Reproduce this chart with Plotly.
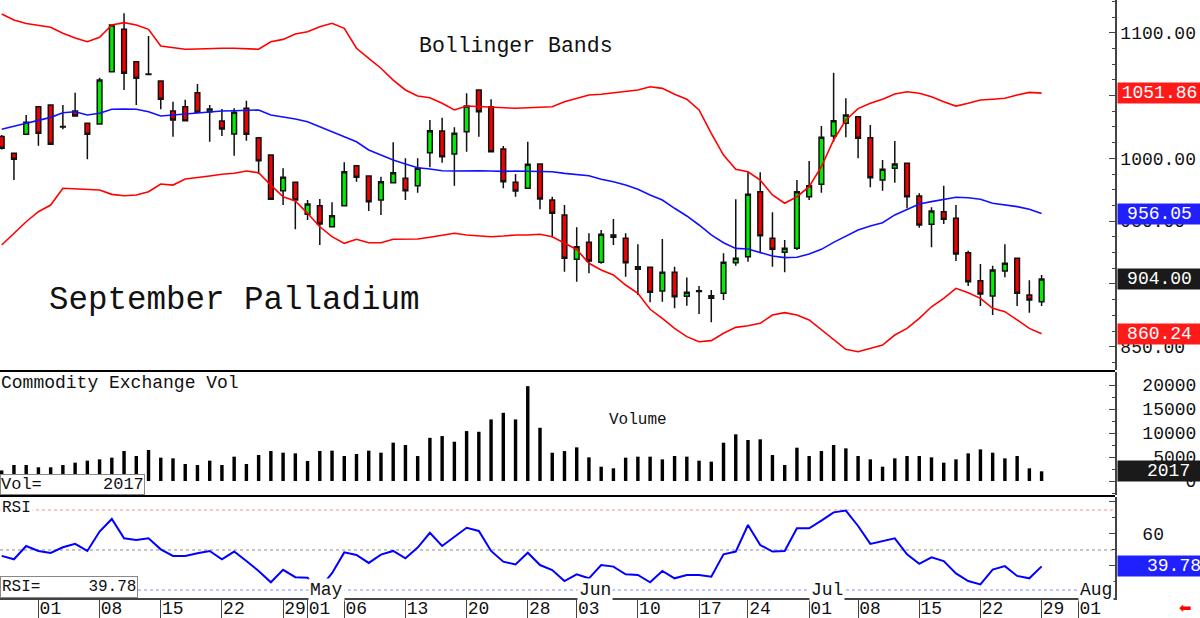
import plotly.graph_objects as go

# ---------------- data ----------------
opens = [1017.3, 1004.0, 1019.1, 1041.1, 1042.4, 1025.0, 1037.7, 1027.9, 1027.3, 1069.0,
         1102.7, 1076.9, 1066.7, 1061.5, 1037.7, 1041.1, 1052.2, 1037.1, 1029.7, 1019.3,
         1039.8, 1016.4, 1002.6, 974.2, 980.9, 955.4, 962.3, 945.5, 962.3, 994.1,
         985.9, 966.8, 980.6, 984.1, 978.2, 1004.5, 1021.7, 1003.4, 1021.2, 1054.4,
         1041.1, 1007.4, 980.9, 976.1, 995.5, 966.8, 954.9, 919.6, 933.1, 917.2,
         938.9, 936.3, 911.6, 913.2, 894.3, 909.2, 890.1, 894.6, 888.5, 892.5,
         916.9, 921.6, 973.4, 936.3, 925.2, 928.3, 969.4, 979.3, 1017.8, 1027.9,
         1033.1, 1016.4, 982.7, 992.0, 996.0, 970.0, 947.4, 957.5, 952.2, 924.8,
         902.6, 890.4, 910.3, 920.4, 891.2, 885.8]
highs = [1018.5, 1004.5, 1034.5, 1041.5, 1043.0, 1042.4, 1052.2, 1028.5, 1064.2, 1106.5,
         1115.4, 1077.3, 1097.4, 1061.8, 1045.1, 1046.6, 1059.2, 1042.4, 1039.3, 1039.8,
         1045.9, 1016.7, 1003.0, 992.0, 981.3, 966.8, 967.6, 965.0, 996.8, 994.4,
         986.2, 985.4, 1012.8, 1000.1, 1000.1, 1030.5, 1032.3, 1024.7, 1051.7, 1054.7,
         1047.0, 1009.7, 987.5, 1013.2, 995.8, 969.4, 962.8, 945.1, 940.3, 942.9,
         951.7, 940.3, 931.5, 913.5, 935.7, 913.7, 905.0, 898.3, 895.1, 924.4,
         967.3, 988.9, 988.9, 957.0, 934.9, 982.7, 997.8, 1025.7, 1068.2, 1047.8,
         1033.4, 1026.5, 998.6, 1013.8, 996.3, 972.1, 961.0, 978.2, 962.8, 926.4,
         915.8, 914.5, 931.5, 920.7, 903.0, 907.1]
lows = [1007.0, 982.7, 1019.0, 1010.0, 1010.5, 1023.1, 1033.0, 999.2, 1027.0, 1068.5,
        1054.4, 1042.4, 1066.4, 1039.0, 1017.2, 1029.6, 1036.3, 1013.2, 1017.8, 1002.1,
        1014.0, 987.5, 967.0, 962.8, 943.5, 950.8, 931.0, 945.2, 962.0, 981.4,
        958.0, 954.8, 980.3, 966.8, 972.6, 992.8, 996.5, 978.2, 1005.3, 1017.2,
        1004.9, 976.1, 969.4, 975.8, 959.4, 937.1, 909.7, 901.8, 908.4, 916.0,
        930.9, 905.7, 891.2, 885.3, 885.8, 880.6, 882.6, 876.0, 869.4, 887.1,
        914.5, 917.7, 924.4, 913.7, 909.2, 927.0, 966.8, 972.6, 1013.2, 1016.7,
        1000.0, 976.9, 974.2, 980.6, 960.2, 944.8, 929.1, 947.7, 918.2, 898.3,
        882.4, 875.2, 905.2, 882.4, 877.1, 882.4]
closes = [1008.0, 999.2, 1028.7, 1019.9, 1011.1, 1025.4, 1033.7, 1019.1, 1062.3, 1106.1,
          1067.7, 1063.7, 1067.1, 1047.0, 1030.5, 1029.9, 1036.6, 1039.3, 1023.3, 1036.6,
          1019.1, 998.1, 967.3, 984.9, 966.8, 963.6, 947.7, 954.3, 989.3, 984.9,
          965.5, 981.4, 988.5, 974.2, 992.0, 1022.0, 1001.3, 1019.9, 1041.6, 1037.1,
          1005.3, 981.4, 974.0, 995.2, 967.6, 956.2, 920.4, 929.6, 918.2, 939.5,
          937.1, 916.9, 913.7, 893.3, 909.2, 889.8, 893.3, 894.0, 890.6, 917.2,
          920.4, 971.3, 938.4, 927.5, 928.3, 973.4, 978.2, 1016.7, 1029.9, 1034.5,
          1015.9, 984.6, 991.2, 995.5, 969.4, 946.9, 958.0, 951.4, 923.8, 901.8,
          892.0, 911.0, 916.4, 892.5, 887.1, 904.0]
bb_upper = [1114.9, 1110.1, 1107.3, 1105.7, 1104.3, 1099.5, 1095.8, 1092.8, 1096.3, 1106.1,
            1108.0, 1106.1, 1102.7, 1089.4, 1088.1, 1086.8, 1087.0, 1087.6, 1087.6, 1087.6,
            1087.3, 1086.8, 1092.8, 1094.7, 1099.0, 1100.8, 1104.8, 1107.5, 1103.5, 1087.6,
            1079.6, 1071.7, 1062.3, 1054.4, 1049.6, 1048.2, 1043.8, 1038.5, 1041.6, 1041.1,
            1040.6, 1039.8, 1039.8, 1040.3, 1040.6, 1041.1, 1045.1, 1047.8, 1050.4, 1051.0,
            1052.2, 1053.0, 1054.4, 1057.0, 1055.7, 1051.0, 1047.0, 1038.5, 1019.9, 1002.6,
            991.2, 989.3, 982.7, 970.8, 964.2, 969.4, 977.4, 993.3, 1014.6, 1030.5,
            1039.6, 1043.8, 1047.0, 1051.2, 1053.0, 1051.8, 1049.0, 1045.1, 1041.6, 1043.8,
            1046.4, 1047.0, 1047.8, 1050.4, 1052.5, 1051.86]
bb_mid = [1023.1, 1025.7, 1027.9, 1030.2, 1032.6, 1036.3, 1037.1, 1034.5, 1035.8, 1039.0,
          1039.3, 1039.0, 1037.1, 1033.7, 1034.5, 1035.3, 1036.3, 1037.1, 1037.7, 1037.9,
          1038.5, 1038.5, 1034.5, 1033.1, 1031.3, 1029.1, 1025.2, 1021.2, 1017.2, 1013.2,
          1006.6, 1002.6, 998.6, 995.5, 992.5, 991.5, 990.1, 989.9, 990.1, 990.1,
          989.9, 989.6, 989.9, 989.9, 989.9, 989.3, 988.0, 987.3, 986.1, 983.3,
          981.4, 978.7, 975.3, 970.8, 966.8, 960.2, 954.1, 946.9, 939.0, 932.8,
          928.3, 927.8, 924.8, 922.2, 920.9, 921.2, 923.8, 927.5, 933.1, 938.1,
          942.9, 946.1, 948.7, 954.9, 959.4, 963.6, 965.5, 967.4, 969.0, 968.6,
          967.4, 964.2, 962.8, 961.5, 959.4, 956.05]
bb_lower = [931.0, 940.3, 949.5, 957.5, 962.8, 976.1, 975.6, 974.8, 974.8, 971.3,
            970.2, 970.8, 973.4, 979.5, 978.7, 983.5, 984.5, 985.9, 987.3, 988.1,
            989.9, 988.5, 978.7, 969.4, 966.0, 956.2, 945.5, 937.6, 932.3, 935.5,
            932.8, 932.8, 935.5, 935.5, 935.7, 937.1, 938.9, 940.3, 938.9, 938.1,
            937.6, 938.1, 938.9, 938.9, 939.5, 937.6, 932.3, 927.4, 916.4, 911.1,
            907.1, 899.1, 892.5, 879.8, 872.6, 864.6, 858.0, 854.0, 854.8, 860.7,
            865.4, 866.7, 868.6, 875.2, 877.1, 875.2, 871.3, 863.3, 855.3, 847.9,
            846.0, 848.7, 851.3, 859.3, 864.6, 872.6, 881.8, 888.5, 896.5, 893.0,
            888.5, 880.6, 877.9, 871.3, 864.6, 860.24]
volume = [2200, 3330, 3330, 2850, 2850, 3330, 3820, 4240, 4510, 4860,
          6250, 5210, 6460, 4860, 4720, 3540, 3330, 4240, 3330, 5070,
          3540, 5420, 6250, 5900, 5760, 4170, 6250, 6320, 5210, 5630,
          6320, 5900, 7990, 7500, 5200, 9000, 9360, 8180, 10400, 10260,
          12830, 14210, 12830, 19760, 11090, 5890, 6240, 7010, 4930,
          2980, 2640, 4860, 5070, 5070, 4510, 5210, 5070, 4230, 4030,
          7980, 9720, 8540, 8680, 5410, 3330, 6940, 5210, 6250, 7500,
          6800, 5210, 4510, 2980, 4720, 5210, 5210, 4930, 3820, 4510,
          5760, 6590, 5900, 4720, 5210, 2640, 2017]
rsi = [46.3, 44.2, 52.5, 49.4, 48.1, 51.7, 53.8, 49.4, 61.5, 69.4,
       57.3, 56.3, 57.3, 50.4, 46.3, 46.3, 47.9, 49.4, 44.2, 49.0,
       43.1, 36.9, 29.8, 37.6, 33.0, 32.7, 26.0, 35.5, 48.5, 46.9,
       41.9, 47.1, 49.4, 44.8, 51.5, 60.7, 52.5, 58.3, 63.9, 61.9,
       49.4, 42.7, 41.0, 48.3, 40.6, 37.5, 30.6, 34.8, 32.3, 40.6,
       39.6, 34.8, 34.4, 29.8, 36.9, 32.3, 34.4, 34.4, 33.3, 47.3,
       49.0, 65.6, 53.1, 49.0, 49.4, 63.5, 63.5, 68.3, 73.5, 74.6,
       65.0, 53.8, 55.6, 57.3, 47.3, 41.3, 45.4, 43.1, 35.4, 30.6,
       28.5, 37.8, 39.9, 33.8, 32.3, 39.78]

day_tick_pos = [3, 8, 13, 18, 23, 25, 28, 33, 38, 43, 47, 52, 57, 61, 66, 70, 75, 80, 85, 88]
day_tick_labels = ["01", "08", "15", "22", "29", "01", "06", "13", "20", "28",
                   "03", "10", "17", "24", "01", "08", "15", "22", "29", "01"]
month_labels = ["May", "Jun", "Jul", "Aug"]
month_pos = [25, 47, 66, 88]
price_tick_vals = [850, 900, 950, 1000, 1050, 1100]
price_tick_text = ["850.00", "", "950.00", "1000.00", "", "1100.00"]
vol_tick_vals = [0, 5000, 10000, 15000, 20000]
vol_tick_text = ["\u00a0\u00a0\u00a0\u00a00", "\u00a05000", "10000", "15000", "20000"]
rsi_tick_vals = [40, 60, 80]
rsi_tick_text = ["", "60", ""]

idx = list(range(len(closes)))
last_close = closes[-1]
last_vol = volume[-1]
last_rsi = rsi[-1]

MONO = "Liberation Mono, DejaVu Sans Mono, monospace"
W, H = 1200, 618
ML, MR, MT, MB = 0, 85, 0, 20
PW, PH = W - ML - MR, H - MT - MB


def py(px):
    """pixel row -> paper y"""
    return (PH - px) / PH


def pxx(px):
    return px / PW


fig = go.Figure()

fig.add_trace(go.Scatter(x=idx, y=bb_upper, mode="lines", line=dict(color="#ff0000", width=1.6),
                         xaxis="x", yaxis="y", showlegend=False, hoverinfo="skip"))
fig.add_trace(go.Scatter(x=idx, y=bb_lower, mode="lines", line=dict(color="#ff0000", width=1.6),
                         xaxis="x", yaxis="y", showlegend=False, hoverinfo="skip"))
fig.add_trace(go.Scatter(x=idx, y=bb_mid, mode="lines", line=dict(color="#1010ff", width=1.6),
                         xaxis="x", yaxis="y", showlegend=False, hoverinfo="skip"))
fig.add_trace(go.Candlestick(x=idx, open=opens, high=highs, low=lows, close=closes,
                             increasing=dict(fillcolor="#00ee00", line=dict(color="#111111", width=1.5)),
                             decreasing=dict(fillcolor="#f00000", line=dict(color="#111111", width=1.5)),
                             whiskerwidth=0, xaxis="x", yaxis="y", showlegend=False, hoverinfo="skip"))
fig.add_trace(go.Bar(x=idx, y=volume, width=0.28, marker=dict(color="black", line=dict(width=0)),
                     xaxis="x", yaxis="y2", showlegend=False, hoverinfo="skip"))
fig.add_trace(go.Scatter(x=idx, y=rsi, mode="lines", line=dict(color="#0000ff", width=2),
                         xaxis="x", yaxis="y3", showlegend=False, hoverinfo="skip"))

price_dom = [py(370), 1.0]
vol_dom = [py(495), py(372)]
rsi_dom = [0.0, py(497)]

axis_common = dict(side="right", anchor="x", showgrid=False, zeroline=False, automargin=False,
                   showline=True, linecolor="#444", linewidth=1.5,
                   ticks="inside", tickcolor="#444", ticklen=6,
                   tickfont=dict(family=MONO, size=18, color="#111"))

fig.update_layout(
    width=W, height=H,
    margin=dict(l=ML, r=MR, t=MT, b=MB, autoexpand=False),
    paper_bgcolor="white", plot_bgcolor="white",
    showlegend=False, boxgap=0.45,
    xaxis=dict(domain=[0, 1], range=[-0.14, 91.0], anchor="y3", showgrid=False, zeroline=False,
               automargin=False,
               showline=True, linecolor="#444", linewidth=1.5,
               tickmode="array", tickvals=day_tick_pos, ticktext=day_tick_labels,
               ticks="outside", ticklen=20, tickcolor="#444", tickwidth=1,
               ticklabelshift=12, ticklabelstandoff=-27,
               tickfont=dict(family=MONO, size=18, color="#111"),
               rangeslider=dict(visible=False), fixedrange=True),
    yaxis=dict(domain=price_dom, range=[831.45, 1126.04], tickmode="array",
               tickvals=price_tick_vals, ticktext=price_tick_text,
               minor=dict(tick0=850, dtick=12.5, ticks="inside", ticklen=3, tickcolor="#444"),
               **axis_common),
    yaxis2=dict(domain=vol_dom, range=[-2917, 22708], tickmode="array",
                tickvals=vol_tick_vals, ticktext=vol_tick_text, ticklabelstandoff=22,
                minor=dict(tick0=0, dtick=2500, ticks="inside", ticklen=3, tickcolor="#444"),
                **axis_common),
    yaxis3=dict(domain=rsi_dom, range=[20, 83.1], tickmode="array",
                tickvals=rsi_tick_vals, ticktext=rsi_tick_text, ticklabelstandoff=22,
                minor=dict(tick0=0, dtick=10, ticks="inside", ticklen=3, tickcolor="#444"),
                **axis_common),
)

shapes = []
# panel separators
for yy in (py(371), py(496)):
    shapes.append(dict(type="line", xref="paper", yref="paper", x0=0, x1=1, y0=yy, y1=yy,
                       line=dict(color="black", width=2)))
# RSI reference lines
for lvl, col in ((75, "#ff8c8c"), (50, "#8a8a8a"), (25, "#8c8cff")):
    shapes.append(dict(type="line", xref="paper", yref="y3", x0=0, x1=1, y0=lvl, y1=lvl,
                       line=dict(color=col, width=1, dash="dot"), layer="below"))
fig.update_layout(shapes=shapes)

ann = []
ann.append(dict(text="Bollinger Bands", xref="paper", yref="paper", x=pxx(417), y=py(45.5),
                xanchor="left", yanchor="middle", showarrow=False,
                font=dict(family=MONO, size=21.5, color="#111")))
ann.append(dict(text="September Palladium", xref="paper", yref="paper", x=pxx(47), y=py(300),
                xanchor="left", yanchor="middle", showarrow=False,
                font=dict(family=MONO, size=32.5, color="#111")))
ann.append(dict(text="Commodity Exchange Vol", xref="paper", yref="paper", x=0, y=py(383),
                xanchor="left", yanchor="middle", showarrow=False, borderpad=0,
                font=dict(family=MONO, size=18, color="#111")))
ann.append(dict(text="Volume", xref="paper", yref="paper", x=pxx(607), y=py(420),
                xanchor="left", yanchor="middle", showarrow=False,
                font=dict(family=MONO, size=16, color="#111")))
ann.append(dict(text="RSI", xref="paper", yref="paper", x=0, y=py(508),
                xanchor="left", yanchor="middle", showarrow=False, bgcolor="white", borderpad=1,
                font=dict(family=MONO, size=16, color="#111")))
ann.append(dict(text="Vol=" + "\u00a0" * 6 + f"{last_vol}", xref="paper", yref="paper", x=0, y=py(495),
                xanchor="left", yanchor="bottom", showarrow=False, bgcolor="white",
                bordercolor="#888", borderwidth=1, borderpad=0,
                font=dict(family=MONO, size=17, color="#111")))
ann.append(dict(text="RSI=" + "\u00a0" * 5 + f"{last_rsi:.2f}", xref="paper", yref="paper", x=0, y=py(598),
                xanchor="left", yanchor="bottom", showarrow=False, bgcolor="white",
                bordercolor="#888", borderwidth=1, borderpad=1,
                font=dict(family=MONO, size=16, color="#111")))
for lab, pos in zip(month_labels, month_pos):
    ann.append(dict(text=lab, xref="x", yref="y3", x=pos, y=25, xanchor="left", yanchor="middle",
                    showarrow=False, bgcolor="white", borderpad=1,
                    font=dict(family=MONO, size=18, color="#111")))
# last-value boxes on right axis
for val, yref, bg, txt in (
        (bb_upper[-1], "y", "#ff1a1a", f"{bb_upper[-1]:.2f}"),
        (bb_mid[-1], "y", "#2020ff", f"{bb_mid[-1]:.2f}"),
        (last_close, "y", "#1a1a1a", f"{last_close:.2f}"),
        (bb_lower[-1], "y", "#ff1a1a", f"{bb_lower[-1]:.2f}"),
        (last_vol, "y2", "#1a1a1a", f"{last_vol}\u00a0"),
        (last_rsi, "y3", "#2020ff", f"{last_rsi:.2f}")):
    ann.append(dict(text=txt, xref="paper", yref=yref, x=1, y=val, xanchor="left", yanchor="middle",
                    xshift=2, showarrow=False, bgcolor=bg, borderpad=0, width=83, height=20,
                    align="right" if yref != "y" else "center",
                    font=dict(family=MONO, size=18, color="white")))
ann.append(dict(text="\u2b05", xref="paper", yref="paper", x=pxx(1185), y=py(608),
                xanchor="center", yanchor="middle", showarrow=False,
                font=dict(family="DejaVu Sans", size=15, color="#ff0000")))
fig.update_layout(annotations=ann)

fig.write_html("out.html")
